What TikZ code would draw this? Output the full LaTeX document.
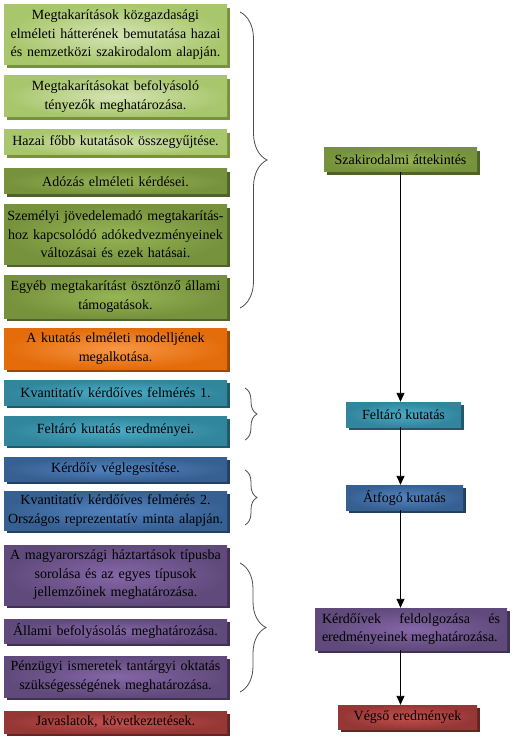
\documentclass[tikz,border=0pt]{standalone}
\usepackage{fontspec}
\setmainfont{Liberation Serif}
\usetikzlibrary{positioning, shadows, decorations.pathreplacing, arrows.meta}

\definecolor{lgreenIn}{HTML}{D4E4B4}
\definecolor{lgreenOut}{HTML}{A8C66C}
\definecolor{lgreenSh}{HTML}{76923C}
\definecolor{oliveIn}{HTML}{96B555}
\definecolor{oliveOut}{HTML}{76923C}
\definecolor{oliveSh}{HTML}{4F6228}
\definecolor{orangeIn}{HTML}{F79646}
\definecolor{orangeOut}{HTML}{E46C0A}
\definecolor{orangeSh}{HTML}{984807}
\definecolor{tealIn}{HTML}{4BACC6}
\definecolor{tealOut}{HTML}{31859C}
\definecolor{tealSh}{HTML}{215968}
\definecolor{blueIn}{HTML}{5283C0}
\definecolor{blueOut}{HTML}{376092}
\definecolor{blueSh}{HTML}{244061}
\definecolor{purpleIn}{HTML}{8466A6}
\definecolor{purpleOut}{HTML}{604A7B}
\definecolor{purpleSh}{HTML}{3F3151}
\definecolor{redIn}{HTML}{C4504D}
\definecolor{redOut}{HTML}{953735}
\definecolor{redSh}{HTML}{632523}

\tikzset{
  shadebox/.style n args={3}{inner color=#1, outer color=#2,
    drop shadow={fill=#3, opacity=1, shadow xshift=3pt, shadow yshift=-3pt}},
  lgreen/.style={shadebox={lgreenIn}{lgreenOut}{lgreenSh}},
  olive/.style={shadebox={oliveIn}{oliveOut}{oliveSh}},
  orng/.style={shadebox={orangeIn}{orangeOut}{orangeSh}},
  teal/.style={shadebox={tealIn}{tealOut}{tealSh}},
  blu/.style={shadebox={blueIn}{blueOut}{blueSh}},
  prpl/.style={shadebox={purpleIn}{purpleOut}{purpleSh}},
  redd/.style={shadebox={redIn}{redOut}{redSh}},
  box/.style={text width=218pt, inner xsep=2.5pt, inner ysep=0pt, align=center,
    font=\fontsize{14}{18.5}\selectfont},
  rbox/.style={inner xsep=4pt, inner ysep=0pt, minimum height=24pt, align=center,
    font=\fontsize{14}{18.5}\selectfont},
  brc/.style={decorate, decoration={brace, amplitude=#1}, draw=black!70, line width=0.8pt},
  arr/.style={-{Triangle[width=8pt,length=9pt]}, line width=0.9pt}
}

\begin{document}
\begin{tikzpicture}[x=1pt, y=-1pt]
    \useasboundingbox (0,0) rectangle (513,743);

    % Left column
    \foreach \n/\y/\h/\c/\t in {
      1/35/60/lgreen/{Megtakarítások közgazdasági\\elméleti hátterének bemutatása hazai\\és nemzetközi szakirodalom alapján.},
      2/96.5/41/lgreen/{Megtakarításokat befolyásoló\\tényezők meghatározása.},
      3/142.5/25/lgreen/{Hazai főbb kutatások összegyűjtése.},
      4/181.5/25/olive/{Adózás elméleti kérdései.},
      5/234.5/59/olive/{Személyi jövedelemadó megtakarítás-\\hoz kapcsolódó adókedvezményeinek\\változásai és ezek hatásai.},
      6/296.5/43/olive/{Egyéb megtakarítást ösztönző állami\\támogatások.},
      7/348.5/41/orng/{A kutatás elméleti modelljének\\megalkotása.},
      8/392.5/25/teal/{Kvantitatív kérdőíves felmérés 1.},
      9/430.5/29/teal/{Feltáró kutatás eredményei.},
      10/469/24/blu/{Kérdőív véglegesítése.},
      11/510.5/39/blu/{Kvantitatív kérdőíves felmérés 2.\\Országos reprezentatív minta alapján.},
      12/575/60/prpl/{A magyarországi háztartások típusba\\sorolása és az egyes típusok\\jellemzőinek meghatározása.},
      13/631/24/prpl/{Állami befolyásolás meghatározása.},
      14/676.5/41/prpl/{Pénzügyi ismeretek tantárgyi oktatás\\szükségességének meghatározása.},
      15/722/22/redd/{Javaslatok, következtetések.}} {
      \node[box, \c, minimum height=\h pt] (b\n) at (115.5,\y) {\t};
    }

    % Braces
    \draw[brc=27pt] (240,12) -- (240,308);
    \draw[brc=12pt] (245,388) -- (245,440);
    \draw[brc=12pt] (245,470) -- (245,525);
    \draw[brc=26pt] (240,563) -- (240,692);

    % Right column
    \node[rbox, olive, minimum width=153pt] (r1) at (400.5,160) {Szakirodalmi áttekintés};
    \node[rbox, teal, minimum width=115pt, minimum height=25pt] (r2) at (403.5,414.5) {Feltáró kutatás};
    \node[rbox, blu, minimum width=117pt, minimum height=25pt] (r3) at (404.5,497.5) {Átfogó kutatás};
    \node[rbox, prpl, text width=178pt, inner xsep=7pt, align=justify, minimum height=42pt] (r4) at (411,629)
      {Kérdőívek feldolgozása és\linebreak eredményeinek meghatározása.};
    \node[rbox, redd, minimum width=139pt] (r5) at (407.5,717) {Végső eredmények};

    % Arrows
    \draw[arr] (r1) -- (r1 |- r2.north);
    \draw[arr] (r1 |- r2.south) -- (r1 |- r3.north);
    \draw[arr] (r1 |- r3.south) -- (r1 |- r4.north);
    \draw[arr] (r1 |- r4.south) -- (r1 |- r5.north);

\end{tikzpicture}
\end{document}
